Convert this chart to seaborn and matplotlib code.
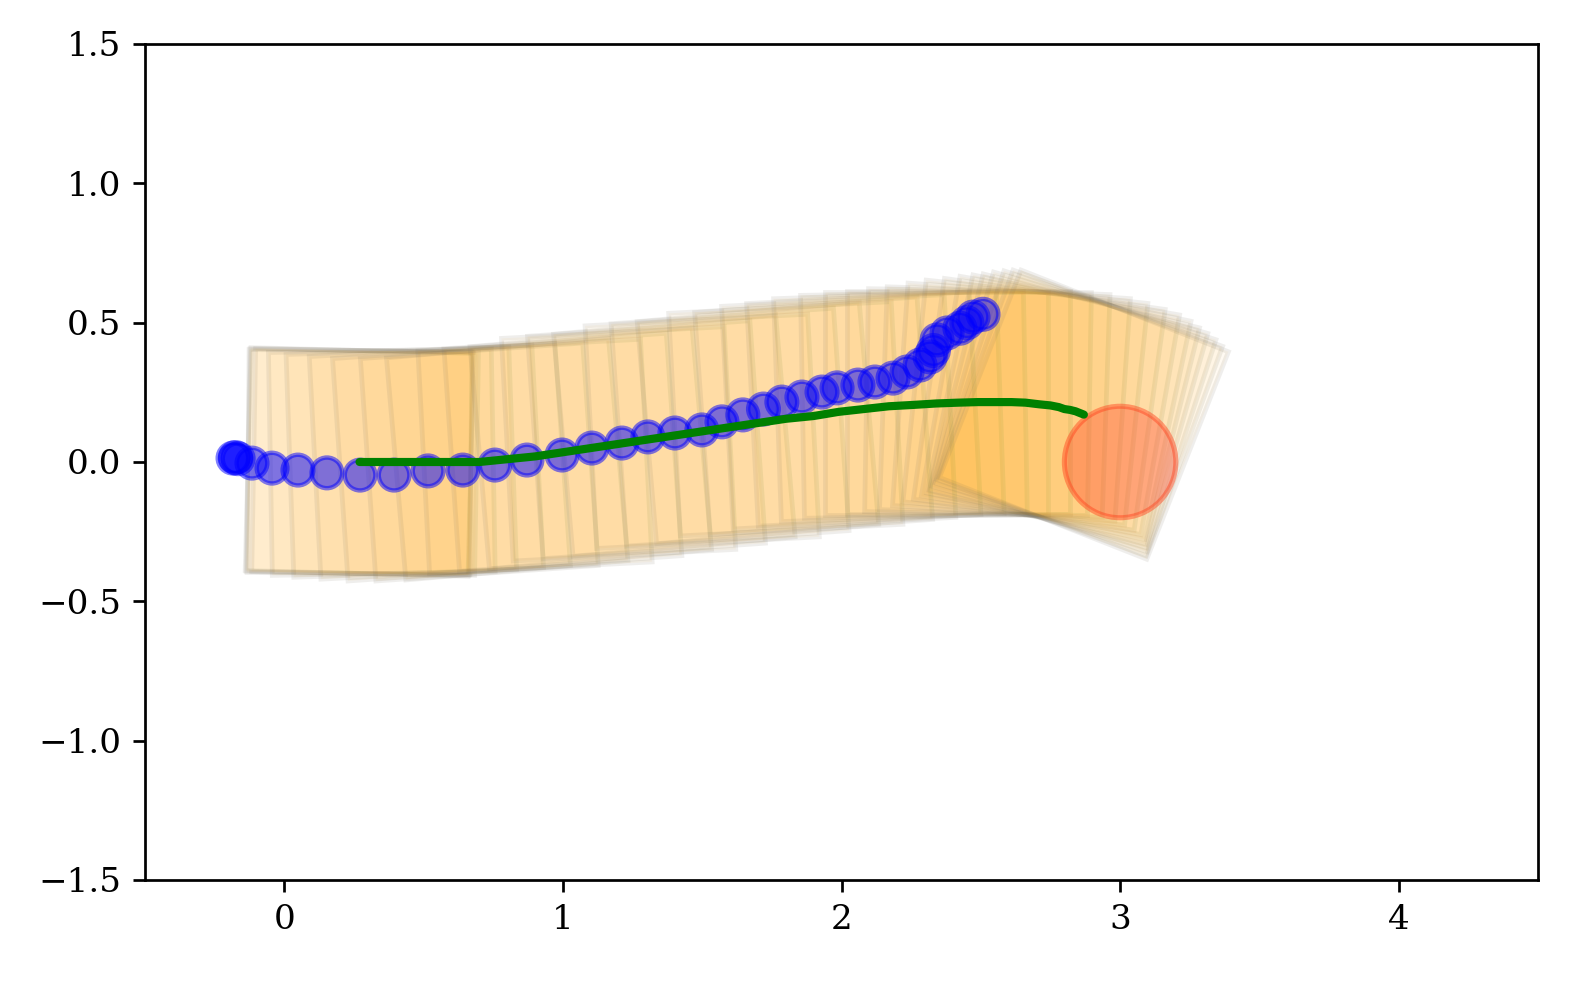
import numpy as np
import matplotlib
matplotlib.use("Agg")
import matplotlib.pyplot as plt
import seaborn as sns
from matplotlib.patches import Rectangle, Circle

# ---- data ----
# object (square) centre trajectory and orientation per frame
obj_x = [0.27, 0.27, 0.27, 0.29, 0.35, 0.42, 0.51, 0.60, 0.70, 0.80, 0.90, 1.00, 1.10,
         1.20, 1.30, 1.40, 1.50, 1.60, 1.70, 1.80, 1.90, 1.99, 2.08, 2.17, 2.26, 2.34,
         2.42, 2.49, 2.55, 2.61, 2.66, 2.71, 2.75, 2.78, 2.80, 2.82, 2.84, 2.855, 2.87]
obj_y = [0.0, 0.0, 0.0, 0.0, 0.0, 0.0, 0.0, 0.0, 0.0, 0.01, 0.02, 0.035, 0.05,
         0.065, 0.08, 0.095, 0.11, 0.125, 0.14, 0.155, 0.165, 0.18, 0.19, 0.20, 0.205, 0.21,
         0.213, 0.215, 0.215, 0.215, 0.213, 0.207, 0.203, 0.197, 0.19, 0.187, 0.182, 0.176, 0.17]
obj_theta = [-1.5, -1, -0.5, -1, 1, 2, 3, 4, 4, 5, 3, 4, 5,
             3, 4, 5, 3, 4, 5, 3, 4, 3, 3, 2, 1, 0,
             0, -1, -2, -4, -6, -8, -10, -12, -14, -16, -18, -20, -21.5]
obj_size = 0.8

# pusher positions
push_x = [-0.184, -0.175, -0.166, -0.116, -0.044, 0.049, 0.153, 0.272, 0.394, 0.516,
          0.641, 0.756, 0.871, 0.997, 1.104, 1.212, 1.305, 1.402, 1.499, 1.571,
          1.646, 1.720, 1.786, 1.858, 1.930, 1.984, 2.059, 2.120, 2.185, 2.235,
          2.282, 2.318, 2.330, 2.343, 2.379, 2.425, 2.450, 2.472, 2.508]
push_y = [0.014, 0.016, 0.012, -0.004, -0.022, -0.029, -0.039, -0.047, -0.047, -0.032,
          -0.029, -0.011, 0.007, 0.025, 0.050, 0.068, 0.090, 0.104, 0.115, 0.144,
          0.169, 0.190, 0.215, 0.233, 0.251, 0.266, 0.276, 0.287, 0.301, 0.323,
          0.348, 0.377, 0.400, 0.438, 0.463, 0.480, 0.500, 0.520, 0.530]
push_r = 0.055

# goal
goal_x, goal_y, goal_r = 3.0, 0.0, 0.2

x_ticks = [0, 1, 2, 3, 4]
y_ticks = [-1.5, -1.0, -0.5, 0.0, 0.5, 1.0, 1.5]

# ---- style ----
sns.set_theme(style="ticks", rc={
    "axes.edgecolor": "black", "xtick.color": "black", "ytick.color": "black",
    "text.color": "black", "axes.labelcolor": "black",
    "axes.linewidth": 0.8, "xtick.major.width": 0.8, "ytick.major.width": 0.8,
    "xtick.major.size": 3.5, "ytick.major.size": 3.5,
})
plt.rcParams["font.family"] = ["DejaVu Serif", "Liberation Serif"]
plt.rcParams["font.size"] = 10
plt.rcParams["axes.unicode_minus"] = True

DPI = 245.3125
fig = plt.figure(figsize=(1570 / DPI, 982 / DPI), dpi=DPI)
ax = fig.add_axes([145 / 1570, 1 - 880 / 982, 1393 / 1570, 836 / 982])

# object squares
for cx, cy, th in zip(obj_x, obj_y, obj_theta):
    ax.add_patch(Rectangle((cx - obj_size / 2, cy - obj_size / 2), obj_size, obj_size,
                           angle=th, rotation_point="center",
                           facecolor=(1.0, 0.647, 0.0, 0.052),
                           edgecolor=(0.45, 0.42, 0.35, 0.11), lw=1.4, zorder=1))

# pusher
for px, py in zip(push_x, push_y):
    ax.add_patch(Circle((px, py), push_r, facecolor="blue", edgecolor="blue",
                        alpha=0.5, lw=1.3, zorder=3))

# goal
ax.add_patch(Circle((goal_x, goal_y), goal_r, facecolor=(1.0, 0.2, 0.1, 0.33),
                    edgecolor=(1.0, 0.25, 0.1, 0.45), lw=1.5, zorder=2))

# object centre trajectory
sns.lineplot(x=obj_x, y=obj_y, color="green", lw=2.4, sort=False, estimator=None,
             ax=ax, zorder=4)

ax.set_xlim(-0.5, 4.5)
ax.set_ylim(-1.5, 1.5)
ax.set_xticks(x_ticks)
ax.set_yticks(y_ticks)
ax.set_xticklabels([f"{v:d}" for v in x_ticks])
ax.set_yticklabels([f"{v:.1f}".replace("-", "\u2212") for v in y_ticks])
ax.tick_params(labelsize=10)
for s in ax.spines.values():
    s.set_visible(True)

fig.savefig("out.png", dpi=DPI)
